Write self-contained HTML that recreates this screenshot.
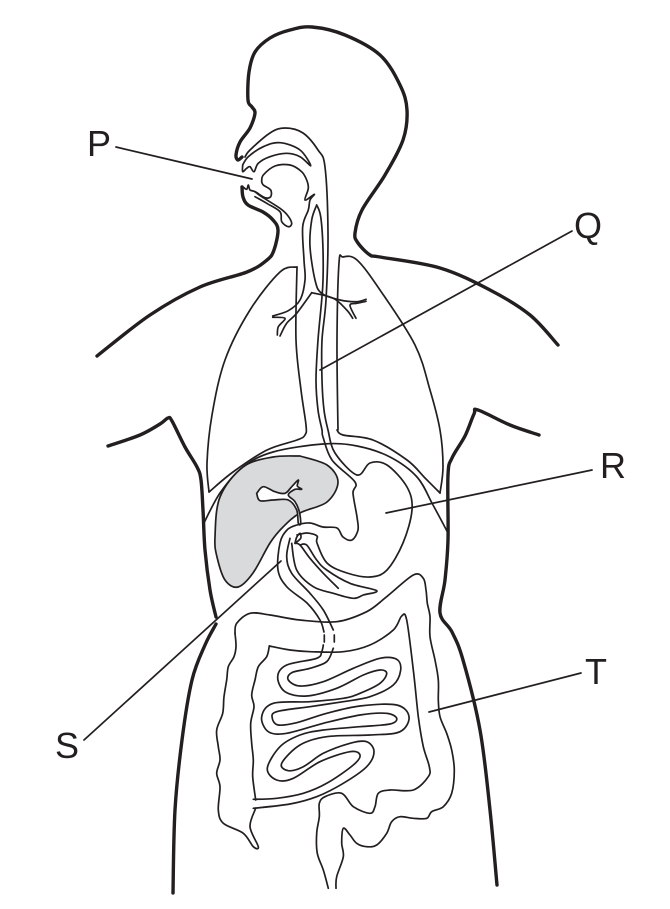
<!DOCTYPE html>
<html><head><meta charset="utf-8"><style>
html,body{margin:0;padding:0;background:#fff;width:670px;height:909px;overflow:hidden}
svg{display:block}
text{font-family:"Liberation Sans",sans-serif;font-size:36px;fill:#231f20;text-anchor:middle}
</style></head><body>
<svg id="s" xmlns="http://www.w3.org/2000/svg" width="670" height="909" viewBox="0 0 670 909">
<text x="99" y="156">P</text>
<text x="588" y="238">Q</text>
<text x="613" y="478">R</text>
<text x="67" y="758">S</text>
<text x="596" y="684">T</text>
</svg>
<script>
var s=document.getElementById('s');
function add(pts,o){
 o=o||{};var ox=o.x||0,oy=o.y||0,k=o.k||1,p=[];
 for(var i=0;i<pts.length;i+=2)p.push([ox+pts[i]*k,oy+pts[i+1]*k]);
 var d='M'+p[0][0].toFixed(1)+' '+p[0][1].toFixed(1),n=p.length;
 for(i=0;i<n-1;i++){
  var a=p[Math.max(i-1,0)],b=p[i],c=p[i+1],e=p[Math.min(i+2,n-1)];
  d+='C'+(b[0]+(c[0]-a[0])/6).toFixed(1)+' '+(b[1]+(c[1]-a[1])/6).toFixed(1)+' '+(c[0]-(e[0]-b[0])/6).toFixed(1)+' '+(c[1]-(e[1]-b[1])/6).toFixed(1)+' '+c[0].toFixed(1)+' '+c[1].toFixed(1);
 }
 var el=document.createElementNS('http://www.w3.org/2000/svg','path');
 el.setAttribute('d',d);el.setAttribute('fill',o.fill||'none');
 el.setAttribute('stroke','#231f20');el.setAttribute('stroke-width',o.w||1.7);
 el.setAttribute('stroke-linecap','round');el.setAttribute('stroke-linejoin','round');
 s.appendChild(el);
}
var Z1={x:200,y:100,k:1/3},Z2={x:200,y:430,k:1/3},Z3={x:210,y:570,k:1/3};
var T={w:3.4};
/* liver first, so everything sits on top */
add([300,456,327,465,338,482,327,502,300,513,283,527,270,543,253,573,238,587,225,580,217,557,215,537,220,497,243,467,273,457,300,456],{fill:'#d9dadc'});
add([170,190,190,170,225,185,255,190,275,170,295,150,292,168,305,178,285,178,265,195,285,215,298,245,302,280,295,280,290,240,265,210,220,210,180,212,170,190],{x:200,y:430,k:1/3,fill:'#fff'});
/* body outline */
add([242,157,238,160,236,155,240,142,250,128,255,113,252,107,248,100,249,72,255,52,270,38,290,30,312,27,345,35,380,55,400,85,407,110,403,140,385,175,362,210,355,233,358,243,370,255,380,257,440,268,490,290,530,315,558,345],T);
add([242,187,243,197,248,205,263,212,273,220,278,230,274,250,267,260,247,272,200,287,150,315,97,356],T);
add([108,446,140,435,160,424,168,418,172,421,185,447,197,467,201,480,203,510,205,550,210,590,216,617],T);
add([216,624,205,645,192,680,182,740,175,810,173,893],T);
add([539,435,510,425,478,410,474,414,465,436,452,458,448,475,448,540,445,580,440,613,452,632,463,660,480,730,490,810,497,885],T);
/* lungs */
add([209,492,207,463,212,415,225,360,250,310,280,272,297,267]);
add([297,267,296,340,301,390,306,425,305,435,297,440,267,450,233,472,209,492]);
add([338,430,337,340,339,263,343,257,357,260,380,290,415,345,430,390,440,430,443,467,440,493]);
add([440,493,425,478,407,460,373,440,343,435,337,430]);
add([203,525,220,493,243,467,273,452,323,444,357,446,390,457,417,477,433,505,448,533]);
/* oesophagus + stomach */
add([316.7,205,320.7,216.7,323,250,322.7,287,318,340,316,380,318,410,322,430,323,437,332,460,355,482,353,493,357,517,358,530,352,540,343,537,337,528,323,527,310,523,297,525,287,530,280,543,278,570,287,587,307,603,320,620,324,632]);
add([245,157,250,150,270,133,285,128,303,133,318,150,325,167,328,233,326,300,322,340,322,380,324,410,328,430,335,453,357,475,370,463,387,465,407,487,412,510,403,543,387,570,370,577,347,573,327,563,317,543,317,536,307,533,297,535]);
add([270,325,260,380,275,430,330,490,370,540,400,600],Z2);
add([285,340,300,345,330,385,370,430,415,475],Z2);
add([300,345,320,345,350,390,380,420,450,460,530,482,490,495,460,505,400,490,340,470,290,420,275,340],Z2);
add([285,340,290,322,300,310,302,325,285,340],Z2);
/* throat */
add([128,195,128,215,140,205,150,200,162,215,175,190,210,170,260,160,300,170,332,197,300,150,240,128,190,140,145,170,128,195],Z1);
add([185,245,190,225,225,198,270,195,305,215,320,240,325,265,315,300,343,283,330,300,325,330,308,380,312,480,315,540,300,600,265,632,218,648],Z1);
add([185,245,190,255,212,270,212,290,195,293,165,275,150,270,145,255,140,268,128,260],Z1);
add([165,275,185,290,240,325,262,345,275,370,265,380,245,365,240,335,200,310,165,290],Z1);
add([350,315,335,360,330,440,345,540,365,580,420,600,470,605,498,598],Z1);
add([498,604,470,610,450,616,468,655],Z1);
add([335,578,400,595,440,630,458,655],Z1);
add([335,578,290,640,260,670,240,708],Z1);
add([218,652,255,655,235,680,232,705],Z1);
/* leaders and dashes */
add([116,147,252,179]);
add([320,370,572,231]);
add([386,513,592,470]);
add([84,740,281,561]);
add([429,712,581,673]);
add([324.3,635,324.3,642]);
add([334.3,635,334.3,642]);
/* small intestine */
add([340,225,335,245,320,265,230,285,203,320,225,365,290,378,380,355,460,315,510,300,530,310,510,340,450,370,400,385,300,395,190,400,155,440,175,485,230,490,340,460,450,435,530,430,560,445,540,462,450,470,340,480,270,495,210,530,172,595,200,630,250,625,330,575,420,545,450,555,430,585,350,640,280,670,200,685,130,688],Z3);
add([370,235,350,275,300,295,245,308,235,330,270,348,340,335,430,295,510,265,560,268,572,300,550,345,480,380,400,395,300,410,200,425,187,445,205,465,260,458,350,430,450,408,560,405,597,440,570,485,480,495,350,500,270,525,215,580,235,602,280,590,340,550,420,520,470,515,492,545,470,590,400,640,320,680,240,702,130,715],Z3);
/* large intestine */
add([75,190,80,160,120,130,180,135,270,150,380,155,470,125,530,80,610,15,640,25,648,60,652,100,660,140,660,200,675,270,685,330,685,390,690,440,710,490,725,540,733,600,725,670,700,710,665,725,650,745,610,745,570,740,545,755,530,790,500,825,470,830,440,820,420,795,400,775,395,820,400,860,380,920,378,955],Z3);
add([355,955,340,900,322,850,320,790,328,740,328,700,345,680,395,670,430,710,480,730,495,710,505,670,540,660,610,660,655,620,658,590,640,530,625,440,610,300,590,150,575,138,550,180,480,225,400,245,300,245,240,240,178,228],Z3);
add([178,228,170,260,145,290,135,330,125,375,132,410,122,460,125,520,130,570,128,620,137,690],Z3);
add([137,715,120,770,145,830,130,830,100,790,40,760,25,720,30,650,20,610,30,570,25,530,20,480,38,430,42,380,50,330,55,290,72,260,78,230,75,190],Z3);
</script>
</body></html>
